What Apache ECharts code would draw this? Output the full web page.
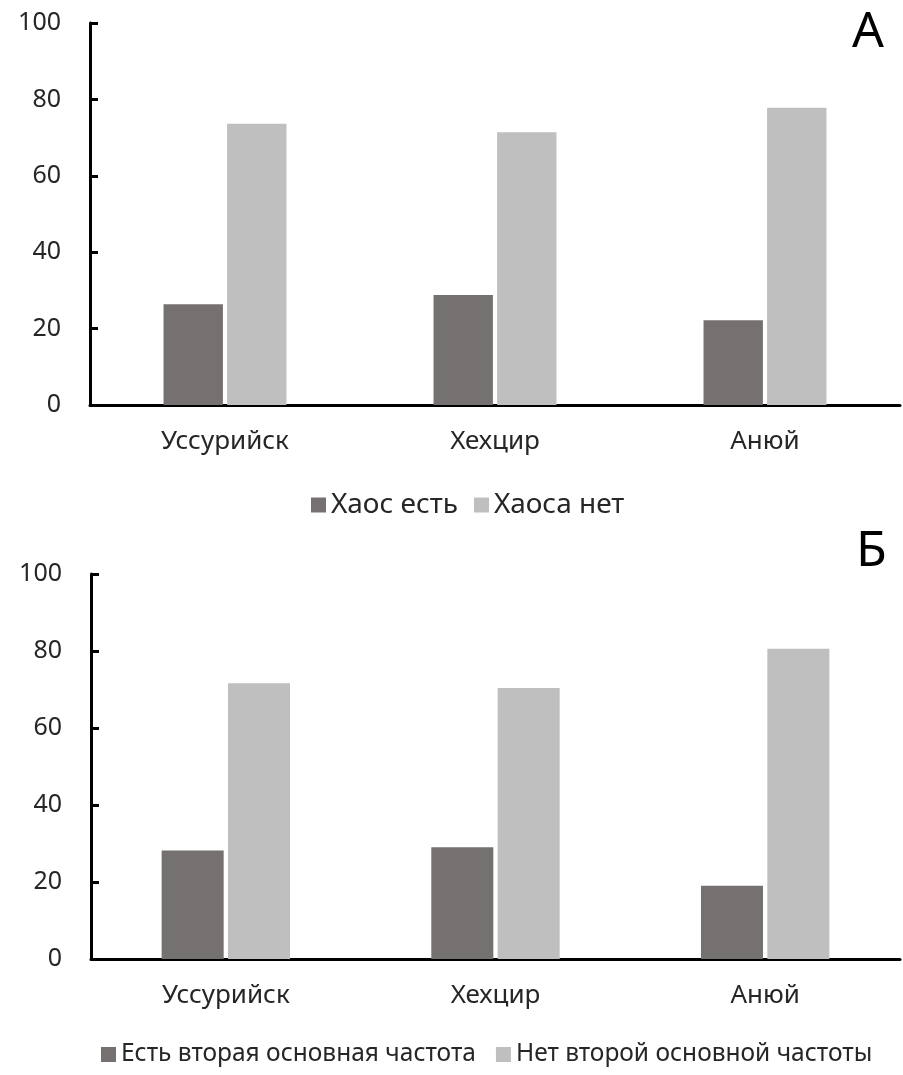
<!DOCTYPE html>
<html>
<head>
<meta charset="utf-8">
<script src="https://cdn.jsdelivr.net/npm/echarts@6/dist/echarts.min.js"></script>
<style>
html, body { margin: 0; padding: 0; background: #fff; }
#main { width: 903px; height: 1075px; }
</style>
</head>
<body>
<div id="main"></div>
<script>
// категории (общие для обоих графиков)
var cities = ['Уссурийск', 'Хехцир', 'Анюй'];
var yTicks = [0, 20, 40, 60, 80, 100];

// график А
var chaosYes = [26.4, 28.8, 22.2];
var chaosNo = [73.6, 71.4, 77.8];

// график Б
var secondYes = [28.2, 29.0, 19.0];
var secondNo = [71.6, 70.4, 80.6];

var namesA = ['Хаос есть', 'Хаоса нет'];
var namesB = ['Есть вторая основная частота', 'Нет второй основной частоты'];

var dark = '#767171';
var light = '#bfbfbf';
var font = 'Noto Sans';
var txt = '#262626';

function xAxisFor(idx) {
    return {
        type: 'category',
        gridIndex: idx,
        data: cities,
        axisLine: { lineStyle: { color: '#000', width: 3 } },
        axisTick: { show: false },
        axisLabel: { color: txt, fontFamily: font, fontSize: 26, margin: 24 }
    };
}
function yAxisFor(idx) {
    return {
        type: 'value',
        gridIndex: idx,
        min: yTicks[0],
        max: yTicks[yTicks.length - 1],
        interval: 20,
        splitLine: { show: false },
        axisLine: { show: true, lineStyle: { color: '#000', width: 3 } },
        axisTick: { show: true, inside: true, length: 8, lineStyle: { color: '#000', width: 3 } },
        axisLabel: { color: txt, fontFamily: font, fontSize: 25, margin: 29 }
    };
}
function legendFor(names, top, left, size, gap) {
    return {
        data: names,
        top: top,
        left: left,
        icon: 'rect',
        itemWidth: 15,
        itemHeight: 15,
        itemGap: gap,
        textStyle: { color: txt, fontFamily: font, fontSize: size }
    };
}

var myChart = echarts.init(document.getElementById('main'));
var option = {
    animation: false,
    grid: [
        { left: 90, right: 3, top: 23, height: 382 },
        { left: 91, right: 3, top: 574, height: 385 }
    ],
    xAxis: [xAxisFor(0), xAxisFor(1)],
    yAxis: [yAxisFor(0), yAxisFor(1)],
    legend: [
        legendFor(namesA, 486, 306, 28, 16),
        legendFor(namesB, 1037, 96, 24.5, 20)
    ],
    series: [
        { name: namesA[0], type: 'bar', xAxisIndex: 0, yAxisIndex: 0, data: chaosYes,
          barWidth: '22%', barGap: '7%', itemStyle: { color: dark } },
        { name: namesA[1], type: 'bar', xAxisIndex: 0, yAxisIndex: 0, data: chaosNo,
          barWidth: '22%', barGap: '7%', itemStyle: { color: light } },
        { name: namesB[0], type: 'bar', xAxisIndex: 1, yAxisIndex: 1, data: secondYes,
          barWidth: '23%', barGap: '7%', itemStyle: { color: dark } },
        { name: namesB[1], type: 'bar', xAxisIndex: 1, yAxisIndex: 1, data: secondNo,
          barWidth: '23%', barGap: '7%', itemStyle: { color: light } }
    ],
    graphic: [
        { type: 'text', left: 852, top: 8, style: { text: 'А', fontFamily: font, fontSize: 50, fill: '#000' } },
        { type: 'text', left: 856, top: 527, style: { text: 'Б', fontFamily: font, fontSize: 50, fill: '#000' } }
    ]
};
myChart.setOption(option, true);
window.onresize = myChart.resize;
</script>
</body>
</html>
